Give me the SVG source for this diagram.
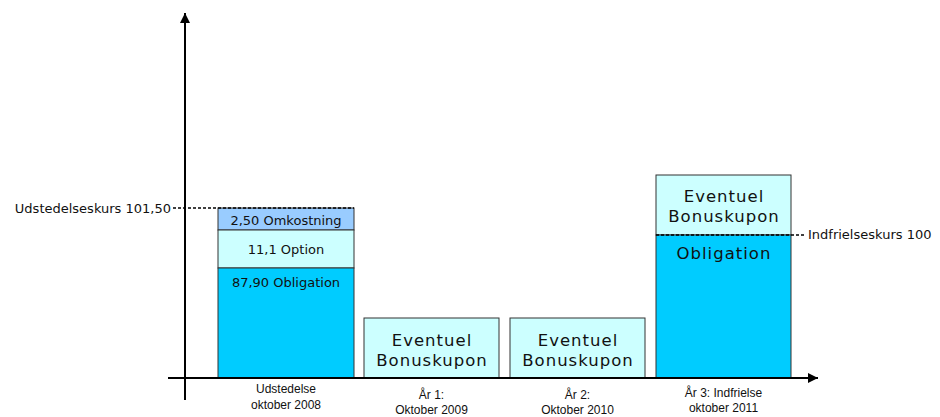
<svg xmlns="http://www.w3.org/2000/svg" width="940" height="417" viewBox="0 0 940 417">
<defs>
<marker id="arr" viewBox="0 0 10 10" refX="10" refY="5" markerWidth="10" markerHeight="10" markerUnits="userSpaceOnUse" orient="auto">
<path d="M0,0 L10,5 L0,10 Z" fill="#000"/>
</marker>
<style>
.box{stroke:#333;stroke-width:1}
.sm{font-family:"DejaVu Sans",Verdana,sans-serif;font-size:13px;fill:#111}
.big{font-family:"DejaVu Sans",Verdana,sans-serif;font-size:16.5px;letter-spacing:1px;fill:#111}
.ax{font-family:"Liberation Sans",Arial,sans-serif;font-size:12px;fill:#111}
.dash{stroke:#000;stroke-width:1.5;stroke-dasharray:3,2;fill:none}
</style>
</defs>
<rect width="940" height="417" fill="#fff"/>
<g id="bar0">
<rect class="box" x="218" y="208" width="136" height="22" fill="#99CCFF"/>
<rect class="box" x="218" y="230" width="136" height="38" fill="#CCFFFF"/>
<rect class="box" x="218" y="268" width="136" height="110" fill="#00CCFF"/>
<text class="sm" x="286" y="224.5" text-anchor="middle">2,50 Omkostning</text>
<text class="sm" x="286" y="254" text-anchor="middle">11,1 Option</text>
<text class="sm" x="286" y="286.5" text-anchor="middle">87,90 Obligation</text>
</g>
<g id="bar1">
<rect class="box" x="364" y="318" width="135" height="60" fill="#CCFFFF"/>
<text class="big" x="432" y="346" text-anchor="middle">Eventuel</text>
<text class="big" x="432" y="366" text-anchor="middle">Bonuskupon</text>
</g>
<g id="bar2">
<rect class="box" x="510" y="318" width="135" height="60" fill="#CCFFFF"/>
<text class="big" x="578" y="346" text-anchor="middle">Eventuel</text>
<text class="big" x="578" y="366" text-anchor="middle">Bonuskupon</text>
</g>
<g id="bar3">
<rect class="box" x="656" y="175" width="135" height="60" fill="#CCFFFF"/>
<rect class="box" x="656" y="235" width="135" height="143" fill="#00CCFF"/>
<text class="big" x="724" y="202" text-anchor="middle">Eventuel</text>
<text class="big" x="724" y="222" text-anchor="middle">Bonuskupon</text>
<text class="big" x="724" y="258.5" text-anchor="middle">Obligation</text>
</g>
<g id="connectors">
<line x1="185" y1="400" x2="185" y2="13" stroke="#000" stroke-width="2" marker-end="url(#arr)"/>
<line x1="168" y1="378" x2="818" y2="378" stroke="#000" stroke-width="2" marker-end="url(#arr)"/>
<line class="dash" x1="173" y1="208" x2="354" y2="208"/>
<line class="dash" x1="656" y1="235" x2="806" y2="235"/>
</g>
<g id="labels">
<text class="sm" x="171" y="213" text-anchor="end">Udstedelseskurs 101,50</text>
<text class="sm" x="808" y="238.5">Indfrielseskurs 100</text>
<text class="ax" x="286" y="393" text-anchor="middle">Udstedelse</text>
<text class="ax" x="286" y="409" text-anchor="middle">oktober 2008</text>
<text class="ax" x="431.5" y="399" text-anchor="middle">År 1:</text>
<text class="ax" x="431.5" y="414" text-anchor="middle">Oktober 2009</text>
<text class="ax" x="577.5" y="399" text-anchor="middle">År 2:</text>
<text class="ax" x="577.5" y="414" text-anchor="middle">Oktober 2010</text>
<text class="ax" x="723.5" y="397" text-anchor="middle">År 3: Indfrielse</text>
<text class="ax" x="723.5" y="412" text-anchor="middle">oktober 2011</text>
</g>
</svg>
